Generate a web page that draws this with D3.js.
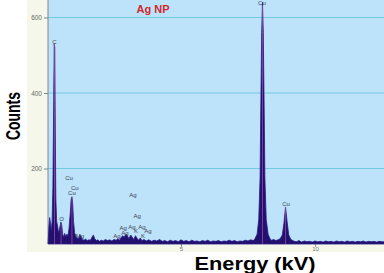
<!DOCTYPE html>
<html>
<head>
<meta charset="utf-8">
<script src="https://cdn.jsdelivr.net/npm/d3@7"></script>
<style>
  body { margin: 0; background: #fff; }
  svg { display: block; }
</style>
</head>
<body>
<div id="container"></div>
<script>
// spectrum: [energy keV, counts]
let spectrum = [
  [0.04,0],[0.07,45],[0.1,70],[0.13,55],[0.16,35],[0.19,60],[0.22,150],[0.25,380],[0.27,530],[0.29,520],
  [0.31,300],[0.33,120],[0.36,60],[0.4,45],[0.43,30],[0.46,38],[0.49,48],[0.52,58],[0.55,50],[0.58,28],
  [0.62,18],[0.66,28],[0.7,20],[0.74,26],[0.78,22],[0.82,40],[0.86,75],[0.9,118],[0.93,125],[0.96,105],
  [0.99,60],[1.03,30],[1.08,20],[1.13,16],[1.18,14],[1.23,24],[1.27,20],[1.32,12],[1.38,10],[1.44,13],
  [1.5,9],[1.56,11],[1.62,10],[1.68,18],[1.73,24],[1.78,14],[1.84,9],[1.9,11],[1.96,7],[2.02,10],
  [2.1,8],[2.18,12],[2.26,9],[2.34,11],[2.42,8],[2.5,12],[2.58,10],[2.64,14],[2.7,10],[2.76,16],
  [2.82,22],[2.88,18],[2.94,26],[3.0,22],[3.06,14],[3.12,24],[3.18,18],[3.24,12],[3.3,22],[3.36,15],
  [3.42,10],[3.48,16],[3.54,9],[3.62,12],[3.7,8],[3.8,11],[3.9,7],[4.0,10],[4.1,8],[4.2,12],
  [4.3,7],[4.4,9],[4.5,6],[4.6,10],[4.7,7],[4.8,9],[4.9,6],[5.0,11],[5.1,7],[5.2,9],
  [5.3,6],[5.4,10],[5.5,7],[5.6,8],[5.7,6],[5.8,9],[5.9,7],[6.0,10],[6.1,6],[6.2,8],
  [6.3,7],[6.4,9],[6.5,6],[6.6,8],[6.7,7],[6.8,10],[6.9,7],[7.0,9],[7.1,6],[7.2,8],
  [7.3,7],[7.4,10],[7.5,8],[7.6,11],[7.7,9],[7.76,14],[7.84,26],[7.9,65],[7.95,175],[7.98,380],
  [8.01,560],[8.04,640],[8.07,560],[8.1,380],[8.13,175],[8.18,65],[8.25,26],[8.32,14],[8.38,10],[8.46,12],
  [8.54,9],[8.62,11],[8.7,14],[8.78,24],[8.84,55],[8.9,98],[8.96,58],[9.02,24],[9.1,12],[9.2,8],
  [9.3,6],[9.4,9],[9.5,5],[9.6,8],[9.7,6],[9.8,7],[9.9,5],[10.0,8],[10.1,6],[10.2,7],
  [10.3,5],[10.4,8],[10.5,6],[10.6,7],[10.7,5],[10.8,8],[10.9,6],[11.0,7],[11.1,5],[11.2,8],
  [11.3,6],[11.4,7],[11.5,5],[11.6,7],[11.7,6],[11.8,8],[11.9,5],[12.0,7],[12.1,6],[12.2,7],
  [12.3,5],[12.4,7],[12.5,6],[12.6,6]
];

// peak labels: text, energy, counts (where the label sits)
let labelText   = ["C","Cu","Cu","Cu","Cu","Cu","O","Mg","Ag","Ag","Ag","Ag","Ag","Ag","K","Ag","Ag","K"];
let labelEnergy = [0.28,8.02,8.92,0.82,1.04,0.93,0.54,1.23,3.21,3.36,2.84,3.17,3.54,2.91,3.32,3.77,2.61,3.58];
let labelCounts = [535,636,106,175,148,135,64,21,130,74,42,45,45,29,32,32,19,19];

// peak marker lines: energy and top in counts
let markerEnergy = [0.28, 0.525, 0.93, 8.04, 8.9];
let markerTop    = [530, 55, 125, 630, 98];

let yTicks = [200, 400, 600];
let xTicks = [5, 10];

const w = 384;
const h = 273;

let viz = d3.select("#container")
  .append("svg")
    .attr("width", w)
    .attr("height", h)
;

let xScale = d3.scaleLinear().domain([0, 12.6]).range([47, 384.7]);
let yScale = d3.scaleLinear().domain([0, 600]).range([244, 17.5]);

// backgrounds
viz.append("rect").attr("x", 27).attr("y", 0).attr("width", w - 27).attr("height", 252).attr("fill", "#f4f7ea");
viz.append("rect").attr("x", 48).attr("y", 0).attr("width", w - 48).attr("height", 244).attr("fill", "#bde3fa");

// grid
viz.selectAll(".grid").data(yTicks).enter().append("line")
  .attr("x1", 48).attr("x2", w)
  .attr("y1", d => yScale(d)).attr("y2", d => yScale(d))
  .attr("stroke", "#72c8de").attr("stroke-width", 1)
;

// y axis
let yAxis = d3.axisLeft(yScale).tickValues(yTicks).tickSize(4).tickPadding(2);
let gy = viz.append("g").attr("transform", "translate(48,0)").call(yAxis);
gy.select(".domain").attr("stroke", "#7a8794").attr("d", "M0,0V244");
gy.selectAll(".tick line").attr("stroke", "#7a8794");
gy.selectAll(".tick text").attr("fill", "#666").style("font-family", "Arial, sans-serif").style("font-size", "6.5px");

// x axis
let xAxis = d3.axisBottom(xScale).tickValues(xTicks).tickSize(3).tickPadding(0);
let gx = viz.append("g").attr("transform", "translate(0,244)").call(xAxis);
gx.select(".domain").remove();
gx.selectAll(".tick line").attr("stroke", "#8a96a0");
gx.selectAll(".tick text").attr("fill", "#777").style("font-family", "Arial, sans-serif").style("font-size", "6px");

// spectrum
let areaMaker = d3.area()
  .x(d => xScale(d[0]))
  .y0(yScale(0))
  .y1(d => yScale(d[1]))
;
viz.append("path")
  .datum(spectrum)
  .attr("d", areaMaker)
  .attr("fill", "#22106e")
  .attr("stroke", "#2a1a86")
  .attr("stroke-width", 0.8)
;

// marker lines
viz.selectAll(".marker").data(markerEnergy).enter().append("line")
  .attr("x1", d => xScale(d)).attr("x2", d => xScale(d))
  .attr("y1", yScale(0))
  .attr("y2", (d, i) => yScale(markerTop[i]))
  .attr("stroke", "#9a48a8").attr("stroke-width", 0.8)
;

// labels
viz.selectAll(".lab").data(labelText).enter().append("text")
  .attr("x", (d, i) => xScale(labelEnergy[i]))
  .attr("y", (d, i) => yScale(labelCounts[i]))
  .attr("text-anchor", "middle")
  .attr("dominant-baseline", "middle")
  .attr("fill", "#3c3c52")
  .style("font-family", "Arial, sans-serif")
  .style("font-size", "6px")
  .text(d => d)
;

// title
viz.append("text")
  .attr("x", 153).attr("y", 13)
  .attr("text-anchor", "middle")
  .attr("fill", "#d0282e")
  .style("font-family", "Arial, sans-serif")
  .style("font-weight", "bold")
  .style("font-size", "11px")
  .text("Ag NP")
;

// axis titles
viz.append("text")
  .attr("transform", "translate(20,116) rotate(-90)")
  .attr("text-anchor", "middle")
  .attr("textLength", 48)
  .attr("lengthAdjust", "spacingAndGlyphs")
  .attr("fill", "#000")
  .style("font-family", "Arial, sans-serif")
  .style("font-weight", "bold")
  .style("font-size", "20px")
  .text("Counts")
;
viz.append("text")
  .attr("x", 255).attr("y", 270)
  .attr("text-anchor", "middle")
  .attr("textLength", 121)
  .attr("lengthAdjust", "spacingAndGlyphs")
  .attr("fill", "#000")
  .style("font-family", "Arial, sans-serif")
  .style("font-weight", "bold")
  .style("font-size", "18px")
  .text("Energy (kV)")
;
</script>
</body>
</html>
